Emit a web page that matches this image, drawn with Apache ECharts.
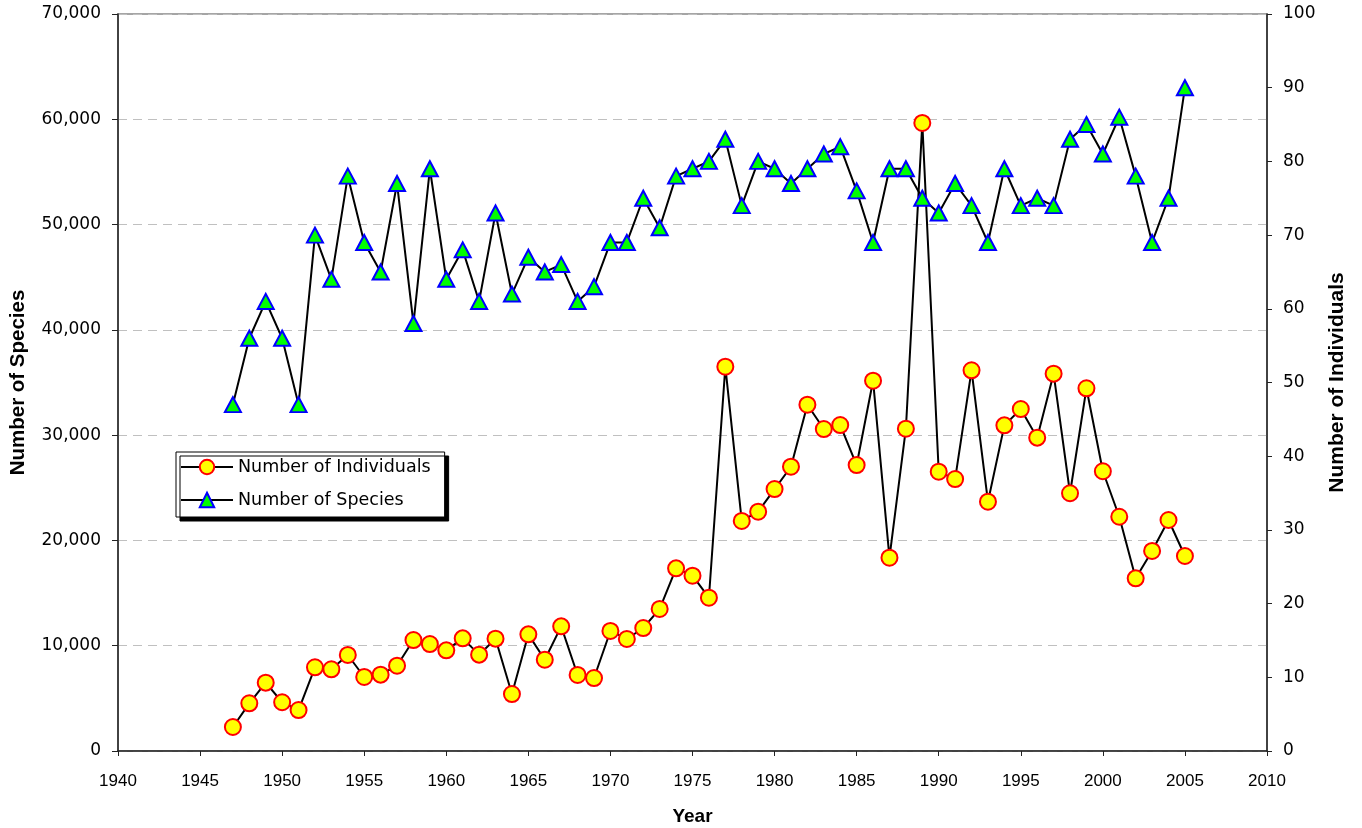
<!DOCTYPE html>
<html>
<head>
<meta charset="utf-8">
<script src="https://cdn.jsdelivr.net/npm/echarts@6/dist/echarts.min.js"></script>
<style>
  html, body { margin: 0; padding: 0; background: #fff; }
  #chart { width: 1362px; height: 828px; }
</style>
</head>
<body>
<div id="chart"></div>
<script>
// years 1947 - 2005
var years = [1947, 1948, 1949, 1950, 1951, 1952, 1953, 1954, 1955, 1956,
  1957, 1958, 1959, 1960, 1961, 1962, 1963, 1964, 1965, 1966,
  1967, 1968, 1969, 1970, 1971, 1972, 1973, 1974, 1975, 1976,
  1977, 1978, 1979, 1980, 1981, 1982, 1983, 1984, 1985, 1986,
  1987, 1988, 1989, 1990, 1991, 1992, 1993, 1994, 1995, 1996,
  1997, 1998, 1999, 2000, 2001, 2002, 2003, 2004, 2005];

// circles, read on the left axis
var individuals = [2280, 4530, 6490, 4630, 3890, 7950, 7760, 9120, 7030, 7250,
  8100, 10540, 10160, 9560, 10700, 9150, 10670, 5410, 11080, 8670,
  11840, 7220, 6930, 11400, 10640, 11680, 13490, 17350, 16650, 14560,
  36500, 21850, 22730, 24880, 27000, 32890, 30580, 30960, 27160, 35170,
  18360, 30610, 59650, 26530, 25830, 36160, 23680, 30930, 32480, 29760,
  35840, 24480, 34450, 26570, 22250, 16400, 19000, 21940, 18520];

// triangles, read on the right axis
var species = [47, 56, 61, 56, 47, 70, 64, 78, 69, 65,
  77, 58, 79, 64, 68, 61, 73, 62, 67, 65,
  66, 61, 63, 69, 69, 75, 71, 78, 79, 80,
  83, 74, 80, 79, 77, 79, 81, 82, 76, 69,
  79, 79, 75, 73, 77, 74, 69, 79, 74, 75,
  74, 83, 85, 81, 86, 78, 69, 75, 90];

var leftTicks = { min: 0, max: 70000, interval: 10000 };
var rightTicks = { min: 0, max: 100, interval: 10 };
var xTicks = { min: 1940, max: 2010, interval: 5 };

function pairs(ys) {
  return years.map(function (y, i) { return [y, ys[i]]; });
}

var xFont = "'Liberation Sans', Arial, sans-serif";
var yFont = "'DejaVu Sans', sans-serif";
var nameFont = "'Liberation Sans Narrow', 'Arial Narrow', 'Liberation Sans', sans-serif";

var chart = echarts.init(document.getElementById('chart'));
chart.setOption({
  animation: false,
  backgroundColor: '#fff',
  grid: {
    left: 118, right: 95, top: 14, bottom: 77,
    containLabel: false, outerBoundsMode: 'none',
    show: true, borderColor: '#888', borderWidth: 1.5, backgroundColor: 'transparent'
  },
  legend: {
    orient: 'vertical',
    left: 176, top: 452,
    padding: [6, 14, 8, 4],
    itemGap: 15,
    itemWidth: 52, itemHeight: 18,
    backgroundColor: '#fff',
    borderColor: '#000', borderWidth: 1,
    shadowColor: '#000', shadowBlur: 0, shadowOffsetX: 4, shadowOffsetY: 4,
    textStyle: { fontFamily: yFont, fontSize: 17.5, color: '#000' },
    data: ['Number of Individuals', 'Number of Species']
  },
  xAxis: {
    type: 'value',
    min: xTicks.min, max: xTicks.max, interval: xTicks.interval,
    name: 'Year', nameLocation: 'middle', nameGap: 56,
    nameTextStyle: { fontFamily: nameFont, fontWeight: 'bold', fontSize: 19, color: '#000' },
    axisLine: { lineStyle: { color: '#222', width: 1.5 } },
    axisTick: { length: 5, lineStyle: { color: '#222' } },
    axisLabel: {
      fontFamily: xFont, fontSize: 17, color: '#000', margin: 22,
      formatter: function (v) { return String(v); }
    },
    splitLine: { show: false }
  },
  yAxis: [{
    type: 'value',
    min: leftTicks.min, max: leftTicks.max, interval: leftTicks.interval,
    name: 'Number of Species', nameLocation: 'middle', nameGap: 89, nameRotate: 90,
    nameTextStyle: { fontFamily: nameFont, fontWeight: 'bold', fontSize: 20.5, color: '#000' },
    axisLine: { show: true, lineStyle: { color: '#222', width: 1.5 } },
    axisTick: { show: true, length: 6, lineStyle: { color: '#222' } },
    axisLabel: {
      fontFamily: yFont, fontSize: 17, color: '#000', margin: 17,
      formatter: function (v) { return v.toLocaleString('en-US'); }
    },
    splitLine: { show: true, lineStyle: { color: '#c0c0c0', type: [9, 6], width: 1.2 } }
  }, {
    type: 'value',
    position: 'right',
    min: rightTicks.min, max: rightTicks.max, interval: rightTicks.interval,
    name: 'Number of Individuals', nameLocation: 'middle', nameGap: 60, nameRotate: 90,
    nameTextStyle: { fontFamily: nameFont, fontWeight: 'bold', fontSize: 21, color: '#000' },
    axisLine: { show: true, lineStyle: { color: '#222', width: 1.5 } },
    axisTick: { show: true, length: 5, lineStyle: { color: '#222' } },
    axisLabel: { fontFamily: yFont, fontSize: 17, color: '#000', margin: 16 },
    splitLine: { show: false }
  }],
  series: [{
    name: 'Number of Individuals',
    type: 'line',
    yAxisIndex: 0,
    data: pairs(individuals),
    symbol: 'circle', symbolSize: 16,
    lineStyle: { color: '#000', width: 2 },
    itemStyle: { color: '#ffff00', borderColor: '#ff0000', borderWidth: 2 }
  }, {
    name: 'Number of Species',
    type: 'line',
    yAxisIndex: 1,
    data: pairs(species),
    symbol: 'triangle', symbolSize: [16, 15],
    lineStyle: { color: '#000', width: 2 },
    itemStyle: { color: '#00ff00', borderColor: '#0000ff', borderWidth: 2 }
  }]
});
</script>
</body>
</html>
